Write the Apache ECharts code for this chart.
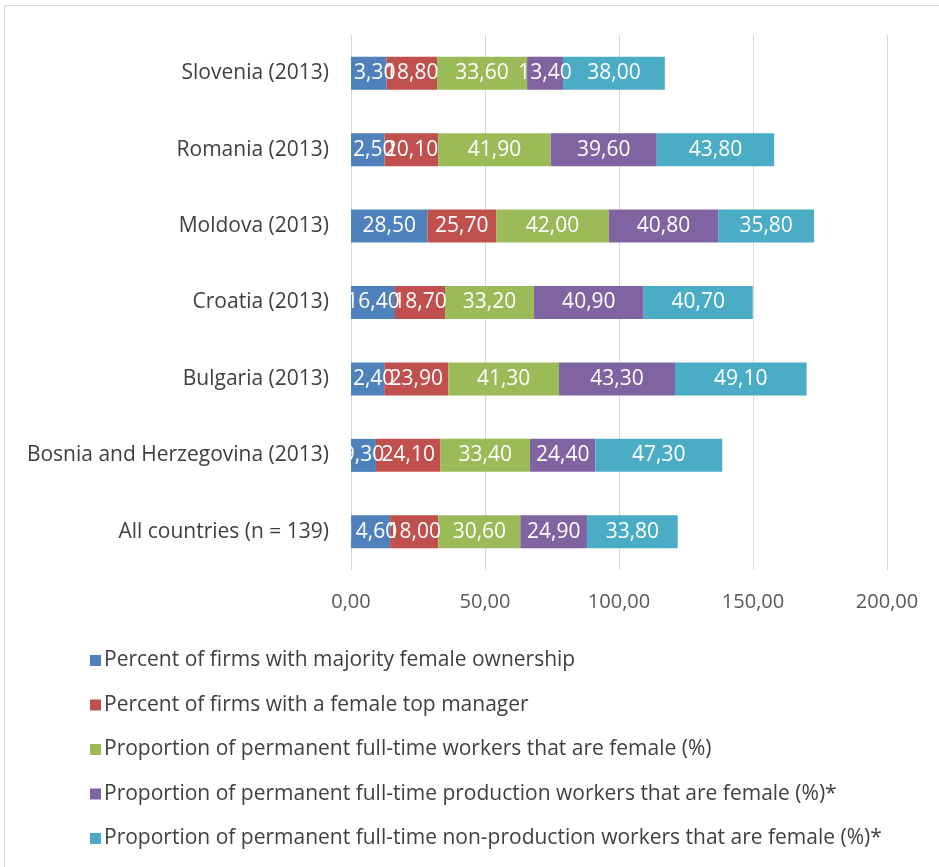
<!DOCTYPE html>
<html>
<head>
<meta charset="utf-8">
<script src="https://cdn.jsdelivr.net/npm/echarts@6/dist/echarts.min.js"></script>
<style>
  html, body { margin: 0; padding: 0; background: #fff; }
  #frame { position: absolute; left: 4px; top: 5px; width: 960px; height: 900px; border: 1px solid #d9d9d9; box-sizing: border-box; }
  #chart { position: absolute; left: 0; top: 0; width: 939px; height: 867px; }
</style>
</head>
<body>
<div id="frame"></div>
<div id="chart"></div>
<script>
// Countries, listed bottom to top
const countries = [
  'All countries (n = 139)',
  'Bosnia and Herzegovina (2013)',
  'Bulgaria (2013)',
  'Croatia (2013)',
  'Moldova (2013)',
  'Romania (2013)',
  'Slovenia (2013)'
];

const seriesNames = [
  'Percent of firms with majority female ownership',
  'Percent of firms with a female top manager',
  'Proportion of permanent full-time workers that are female (%)',
  'Proportion of permanent full-time production workers that are female (%)*',
  'Proportion of permanent full-time non-production workers that are female (%)*'
];

const femaleOwnership   = [14.6, 9.3, 12.4, 16.4, 28.5, 12.5, 13.3];
const femaleTopManager  = [18.0, 24.1, 23.9, 18.7, 25.7, 20.1, 18.8];
const femaleWorkers     = [30.6, 33.4, 41.3, 33.2, 42.0, 41.9, 33.6];
const femaleProduction  = [24.9, 24.4, 43.3, 40.9, 40.8, 39.6, 13.4];
const femaleNonProd     = [33.8, 47.3, 49.1, 40.7, 35.8, 43.8, 38.0];

const xTicks = [0, 50, 100, 150, 200];

const colors = ['#4f81bd', '#c0504d', '#9bbb59', '#8064a2', '#4bacc6'];
const values = [femaleOwnership, femaleTopManager, femaleWorkers, femaleProduction, femaleNonProd];

const fmt = v => Number(v).toFixed(2).replace('.', ',');
const font = "'Open Sans', 'Liberation Sans', sans-serif";

const chart = echarts.init(document.getElementById('chart'));
chart.setOption({
  animation: false,
  color: colors,
  grid: { left: 351, right: 52, top: 35, bottom: 297 },
  xAxis: {
    type: 'value',
    min: xTicks[0],
    max: xTicks[xTicks.length - 1],
    interval: 50,
    axisLine: { show: false },
    axisTick: { show: false },
    splitLine: { lineStyle: { color: '#d9d9d9', width: 1 } },
    axisLabel: { formatter: fmt, color: '#595959', fontSize: 20, fontFamily: font, margin: 22 }
  },
  yAxis: {
    type: 'category',
    data: countries,
    axisLine: { show: false },
    axisTick: { show: false },
    axisLabel: { color: '#404040', fontSize: 21, fontFamily: font, margin: 22 }
  },
  legend: {
    orient: 'vertical',
    left: 85,
    top: 644,
    itemWidth: 11,
    itemHeight: 11,
    itemGap: 21.5,
    icon: 'rect',
    textStyle: { color: '#404040', fontSize: 21, fontFamily: font, lineHeight: 23, padding: [0, 0, 0, -2] },
    data: seriesNames
  },
  series: seriesNames.map((name, i) => ({
    name,
    type: 'bar',
    stack: 'total',
    barWidth: 33,
    data: values[i],
    itemStyle: { color: colors[i] },
    label: {
      show: true,
      position: 'inside',
      color: '#ffffff',
      fontSize: 21,
      fontFamily: font,
      formatter: p => fmt(p.value)
    }
  }))
});
</script>
</body>
</html>
